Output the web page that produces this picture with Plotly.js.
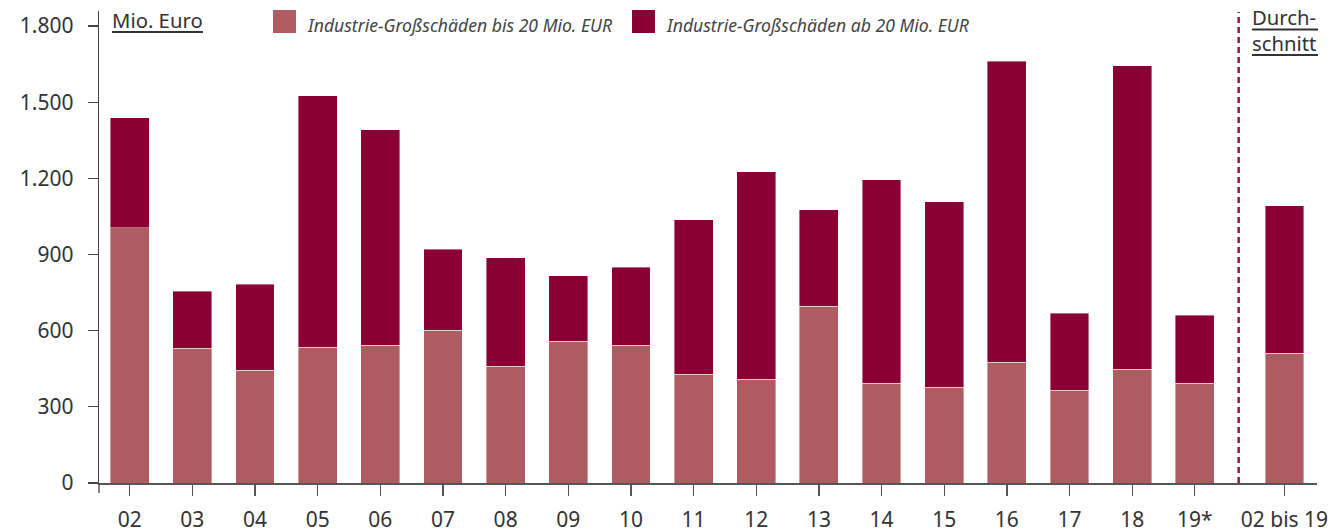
<!DOCTYPE html>
<html>
<head>
<meta charset="utf-8">
<script src="https://cdn.plot.ly/plotly-3.0.1.min.js"></script>
<style>
  html, body { margin: 0; padding: 0; background: #ffffff; }
  #chart { width: 1332px; height: 532px; }
</style>
</head>
<body>
<div id="chart"></div>
<script>
// ---- Data (Mio. Euro) ----
const categories = ['02','03','04','05','06','07','08','09','10','11','12','13','14','15','16','17','18','19*','02 bis 19'];
const seriesNames = ['Industrie-Großschäden bis 20 Mio. EUR', 'Industrie-Großschäden ab 20 Mio. EUR'];
const smallLosses = [1005, 531, 444, 534, 542, 601, 460, 558, 542, 428, 409, 696, 393, 377, 476, 365, 448, 393, 511];
const largeLosses = [433, 224, 338, 991, 849, 319, 428, 259, 307, 609, 817, 381, 802, 731, 1186, 303, 1195, 267, 582];
const yTicks = [0, 300, 600, 900, 1200, 1500, 1800];
const unitLabel = 'Mio. Euro';
const avgLabelLines = ['Durch-', 'schnitt'];

// ---- Layout helpers ----
const W = 1332, H = 532;
const M = { l: 99, r: 15, t: 11, b: 49 };
const PW = W - M.l - M.r, PH = H - M.t - M.b;
const px2x = p => (p - M.l) / PW;
const py2y = p => (H - M.b - p) / PH;

const colLight = '#AE5B62';
const colDark = '#8B0033';
const textCol = '#333333';
const FONT = 'Noto Sans, Open Sans, sans-serif';

// x positions: years at integer steps, the average set apart after a gap
const nYears = categories.length - 1;
const xpos = categories.map((c, i) => i < nYears ? i : i + 0.43);
const sepX = nYears - 1 + 0.70;

const barLine = { width: 0.6, color: 'rgba(255,255,255,0.7)' };

const traces = [
  { type: 'bar', name: seriesNames[0], x: xpos, y: smallLosses, width: 0.62,
    marker: { color: colLight, line: barLine }, hoverinfo: 'skip' },
  { type: 'bar', name: seriesNames[1], x: xpos, y: largeLosses, width: 0.62,
    marker: { color: colDark, line: barLine }, hoverinfo: 'skip' }
];

const shapes = [
  // separator dashed line
  { type: 'line', xref: 'x', yref: 'paper', x0: sepX, x1: sepX, y0: 0, y1: py2y(12),
    line: { color: '#A3123F', width: 2.5, dash: '6px,4px' } },
  // y-axis extension below zero
  { type: 'line', xref: 'paper', yref: 'paper', x0: 0, x1: 0, ysizemode: 'pixel', yanchor: 0,
    y0: 0, y1: -10, line: { color: '#444', width: 1.3 } },
  // legend squares
  { type: 'rect', xref: 'paper', yref: 'paper', x0: px2x(273), x1: px2x(296), y0: py2y(33), y1: py2y(10),
    fillcolor: colLight, line: { width: 0 } },
  { type: 'rect', xref: 'paper', yref: 'paper', x0: px2x(632), x1: px2x(655), y0: py2y(33), y1: py2y(10),
    fillcolor: colDark, line: { width: 0 } },
  // underlines
  { type: 'line', xref: 'paper', yref: 'paper', x0: px2x(112), x1: px2x(203), y0: py2y(32), y1: py2y(32),
    line: { color: textCol, width: 2 } },
  { type: 'line', xref: 'paper', yref: 'paper', x0: px2x(1252), x1: px2x(1318), y0: py2y(29.5), y1: py2y(29.5),
    line: { color: textCol, width: 2 } },
  { type: 'line', xref: 'paper', yref: 'paper', x0: px2x(1252), x1: px2x(1318), y0: py2y(55), y1: py2y(55),
    line: { color: textCol, width: 2 } }
];

const annotations = [
  { text: seriesNames[0], xref: 'paper', yref: 'paper', x: px2x(305), y: py2y(25.5), xanchor: 'left', yanchor: 'middle',
    showarrow: false, font: { family: FONT, size: 17.6, color: '#444', style: 'italic' } },
  { text: seriesNames[1], xref: 'paper', yref: 'paper', x: px2x(664), y: py2y(25.5), xanchor: 'left', yanchor: 'middle',
    showarrow: false, font: { family: FONT, size: 17.6, color: '#444', style: 'italic' } },
  { text: unitLabel, xref: 'paper', yref: 'paper', x: px2x(110), y: py2y(20), xanchor: 'left', yanchor: 'middle',
    showarrow: false, font: { family: FONT, size: 20.3, color: textCol } },
  { text: avgLabelLines[0], xref: 'paper', yref: 'paper', x: px2x(1250), y: py2y(17), xanchor: 'left', yanchor: 'middle',
    showarrow: false, font: { family: FONT, size: 20.3, color: textCol } },
  { text: avgLabelLines[1], xref: 'paper', yref: 'paper', x: px2x(1250), y: py2y(43.5), xanchor: 'left', yanchor: 'middle',
    showarrow: false, font: { family: FONT, size: 20.3, color: textCol } }
];

const layout = {
  width: W, height: H,
  margin: M,
  paper_bgcolor: '#ffffff', plot_bgcolor: '#ffffff',
  barmode: 'stack',
  showlegend: false,
  separators: ',.',
  font: { family: FONT, color: textCol },
  xaxis: {
    range: [-0.49, 18.95],
    tickmode: 'array', tickvals: xpos, ticktext: categories,
    ticks: 'outside', ticklen: 11, tickwidth: 1.3, tickcolor: '#555',
    showline: true, linecolor: '#555', linewidth: 1.5,
    showgrid: false, zeroline: false,
    tickfont: { family: FONT, size: 21, color: textCol },
    ticklabelstandoff: 6,
    fixedrange: true
  },
  yaxis: {
    range: [0, 1800 * 472 / 457],
    tickmode: 'array', tickvals: yTicks, tickformat: ',d',
    ticks: 'outside', ticklen: 10, tickwidth: 1.3, tickcolor: '#444',
    showline: true, linecolor: '#444', linewidth: 1.3,
    showgrid: false, zeroline: false,
    tickfont: { family: FONT, size: 21, color: textCol },
    ticklabelstandoff: 10,
    fixedrange: true
  },
  shapes: shapes,
  annotations: annotations
};

Plotly.newPlot('chart', traces, layout, { staticPlot: true, displayModeBar: false });
</script>
</body>
</html>
